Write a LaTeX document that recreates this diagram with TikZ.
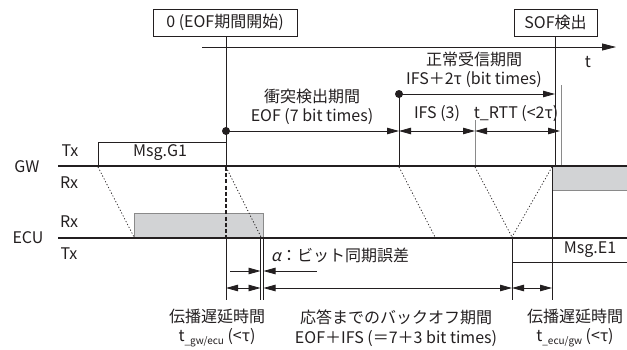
\documentclass[tikz,border=0pt]{standalone}
\usepackage{fontspec}
\setmainfont{Noto Sans CJK JP}
\usetikzlibrary{arrows.meta}
\definecolor{ink}{HTML}{231F20}
\definecolor{fillgray}{HTML}{D2D3D5}
\definecolor{linegray}{HTML}{8A8A8A}
\begin{document}
\begin{tikzpicture}[x=1pt,y=-1pt,
  ln/.style={line width=0.8pt,draw=ink},
  gln/.style={line width=0.8pt,draw=linegray},
  bus/.style={line width=2.4pt,draw=ink},
  dots/.style={line width=0.7pt,draw=ink,dash pattern=on 1.2pt off 2pt},
  rt/.style={ln,-{Triangle[length=12pt,width=6.5pt]}},
  lt/.style={ln,{Triangle[length=12pt,width=6.5pt]}-},
  lrt/.style={ln,{Triangle[length=12pt,width=6.5pt]}-{Triangle[length=12pt,width=6.5pt]}},
  lbl/.style={font=\fontsize{16}{17}\selectfont,text=ink,inner sep=0pt},
  two/.style={lbl,align=center,font=\fontsize{16}{19.5}\selectfont},
  boxed/.style={lbl,draw=ink,line width=0.8pt,minimum height=27pt,inner xsep=6pt},
  dot/.style={circle,fill=ink,inner sep=0pt,minimum size=8pt}
]
\useasboundingbox (0,0) rectangle (627,349);

% time axis
\coordinate (ax0) at (202,47);
\coordinate (ax1) at (616,47);
\draw[ln,-{Triangle[length=14pt,width=7pt]}] (ax0) -- (ax1);
\node[lbl] (t) at (588,62) {t};

% boxes at top
\node[boxed,minimum width=144pt] (zero) at (225,22.5) {0 (EOF期間開始)};
\node[boxed,minimum width=83pt] (sof) at (555.5,22.5) {SOF検出};

% buses
\coordinate (gw0) at (58,166); \coordinate (gw1) at (627,166);
\coordinate (ec0) at (58,238); \coordinate (ec1) at (627,238);

% grey areas
\fill[fillgray] (552,167) rectangle (627,190);
\draw[gln] (552,190) -- (627,190);
\filldraw[fill=fillgray,draw=linegray,line width=0.8pt] (134,213) rectangle (263,237);

% Msg.G1
\draw[ln] (98,166) -- (98,142) -- (226,142);
\node[lbl] (g1) at (160,153) {Msg.G1};

% main verticals
\coordinate (d1) at (226,131);
\coordinate (d2) at (399,94);
\draw[ln] (zero.south -| d1) -- (226,166);
\draw[ln] (d2) -- (399,166);
\draw[gln] (475,120) -- (475,166);
\draw[ln] (sof.south) -- (555.5,166);
\draw[gln] (561,85) -- (561,166);

% arrows upper
\draw[rt] (d1) -- (399,131);
\draw[rt] (d2) -- (555,94);
\draw[lrt] (399,131) -- (475,131);
\draw[lrt] (475,131) -- (560,131);
\node[dot] at (d1) {};
\node[dot] at (d2) {};

% labels upper
\node[two] (col) at (312,107) {衝突検出期間\\EOF (7 bit times)};
\node[two] (nor) at (474,70) {正常受信期間\\IFS＋2τ (bit times)};
\node[lbl] (ifs) at (437,114) {IFS (3)};
\node[lbl] (rtt) at (516,114) {t\_RTT (<2τ)};

% dotted propagation lines
\draw[dots] (98,167) -- (134,237);
\draw[dots] (226,167) -- (261,237);
\draw[dots] (399,167) -- (435,237);
\draw[dots] (475,167) -- (512,237);
\draw[dots] (552,167) -- (512,237);

% dashed thick at 226
\draw[ink,line width=1.8pt,dash pattern=on 4pt off 2.2pt] (226,167) -- (226,237);
\draw[ln] (226,238) -- (226,300);
\draw[ln] (260.5,238) -- (260.5,300);
\draw[ln] (263.5,237) -- (263.5,300);
\draw[ln] (512,238) -- (512,300);
\draw[ln] (552,166) -- (552,300);
\draw[ln] (512,262) -- (627,262);
\node[lbl] (e1) at (590,250) {Msg.E1};

\draw[bus] (gw0) -- (gw1);
\draw[bus] (ec0) -- (ec1);

% lower arrows
\draw[rt] (230,271) -- (260.5,271);
\draw[lt] (263.5,271) -- (317,271);
\draw[lrt] (226,288) -- (260.5,288);
\draw[lrt] (263.5,288) -- (512,288);
\draw[lrt] (512,288) -- (552,288);

\node[lbl,anchor=west] (alpha) at (271,255) {{\addfontfeature{FakeSlant=0.2}α}：ビット同期誤差};

% left labels
\node[lbl] (gwtx) at (70,151) {Tx};
\node[lbl] (gw) at (27,167) {GW};
\node[lbl] (gwrx) at (69,183) {Rx};
\node[lbl] (ecrx) at (69,222) {Rx};
\node[lbl] (ecu) at (28,238) {ECU};
\node[lbl] (ectx) at (69,254) {Tx};

% bottom labels
\node[two] (p1) at (217,328) {伝播遅延時間\\t\raisebox{-2.5pt}{\fontsize{10}{10}\selectfont \_gw/ecu} (<τ)};
\node[two] (p2) at (396,328) {応答までのバックオフ期間\\EOF＋IFS (＝7＋3 bit times)};
\node[two] (p3) at (575,328) {伝播遅延時間\\t\raisebox{-2.5pt}{\fontsize{10}{10}\selectfont \_ecu/gw} (<τ)};
\end{tikzpicture}
\end{document}
